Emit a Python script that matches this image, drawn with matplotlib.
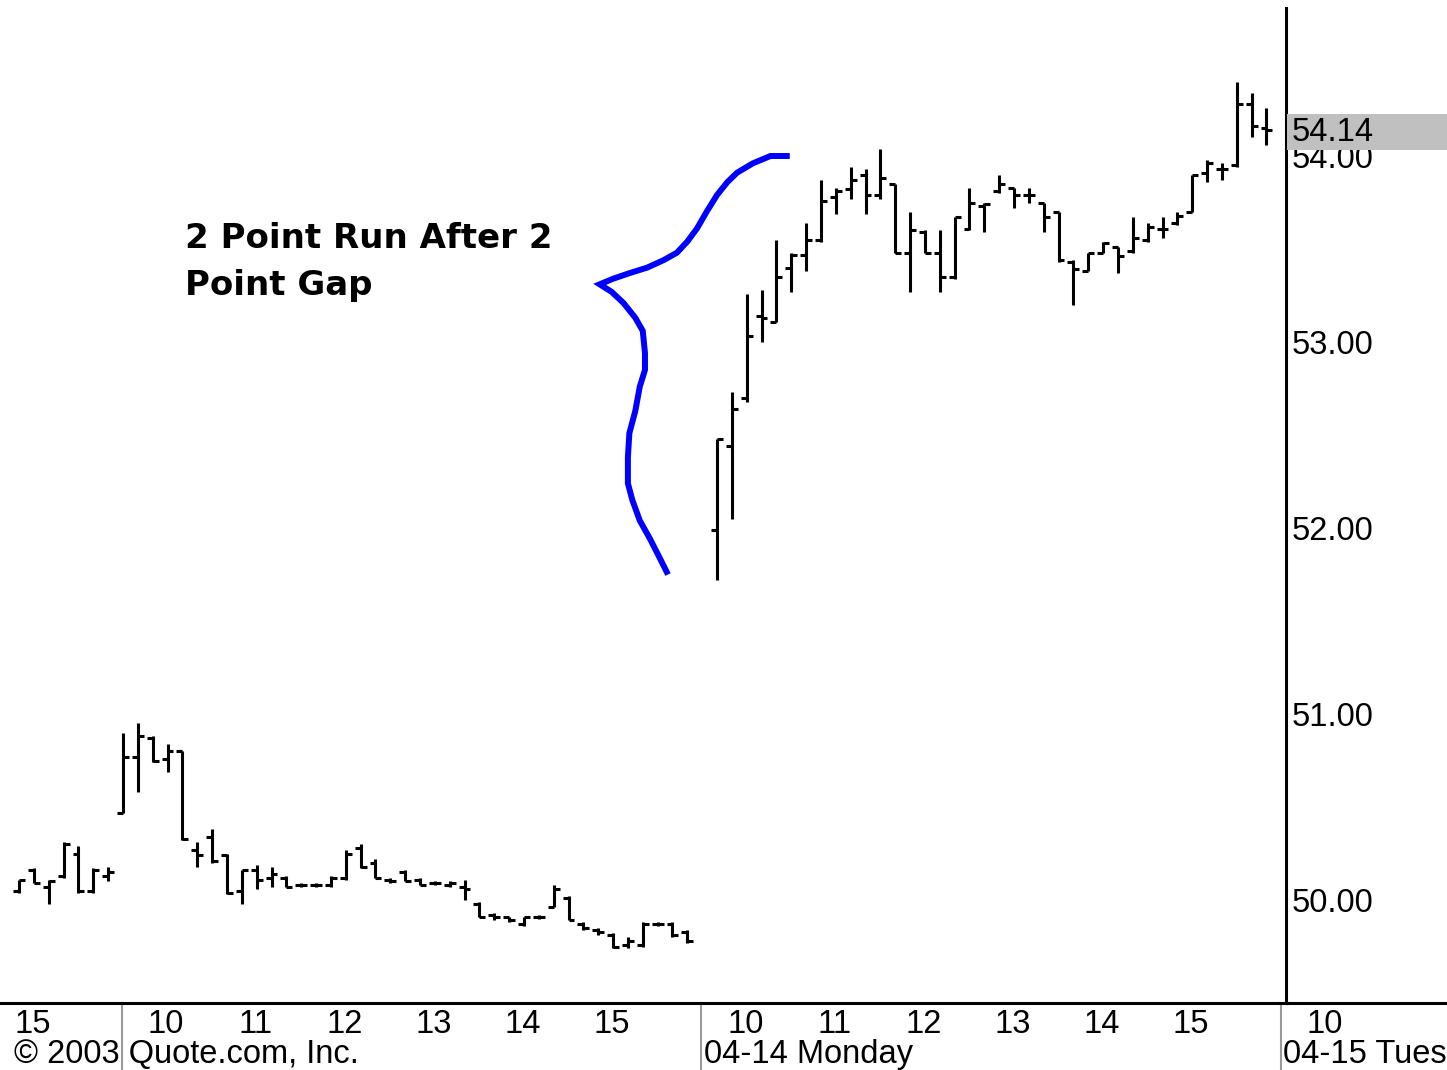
import numpy as np
import matplotlib
matplotlib.use("Agg")
from matplotlib import pyplot as plt
from matplotlib import font_manager
from matplotlib.patches import Rectangle
from matplotlib.lines import Line2D

# 10-minute bars: last hour of the first session, full Friday, Monday (gap up)
prev_open = [50.05, 50.16, 50.07, 50.13, 50.25, 50.05, 50.13]
prev_high = [50.11, 50.17, 50.11, 50.31, 50.29, 50.17, 50.18]
prev_low = [50.04, 50.09, 49.98, 50.12, 50.04, 50.04, 50.10]
prev_close = [50.11, 50.09, 50.10, 50.30, 50.05, 50.16, 50.15]

fri_open = [50.47, 50.77, 50.87, 50.76, 50.80, 50.27, 50.34, 50.24, 50.05, 50.16,
            50.12, 50.12, 50.08, 50.08, 50.08, 50.12, 50.28, 50.20, 50.11, 50.15,
            50.11, 50.09, 50.08, 50.07, 49.98, 49.92, 49.91, 49.87, 49.91, 49.96,
            50.01, 49.87, 49.84, 49.81, 49.76, 49.76, 49.87, 49.87, 49.83]
fri_high = [50.90, 50.95, 50.88, 50.84, 50.80, 50.31, 50.38, 50.25, 50.16, 50.19,
            50.18, 50.13, 50.09, 50.09, 50.13, 50.27, 50.30, 50.22, 50.12, 50.16,
            50.12, 50.10, 50.10, 50.11, 49.99, 49.93, 49.91, 49.91, 49.92, 50.08,
            50.02, 49.88, 49.85, 49.82, 49.80, 49.88, 49.88, 49.88, 49.84]
fri_low = [50.47, 50.58, 50.74, 50.69, 50.32, 50.18, 50.20, 50.03, 49.98, 50.06,
           50.07, 50.07, 50.07, 50.07, 50.07, 50.11, 50.17, 50.12, 50.09, 50.10,
           50.08, 50.08, 50.07, 50.00, 49.91, 49.89, 49.88, 49.86, 49.90, 49.96,
           49.89, 49.84, 49.81, 49.74, 49.74, 49.75, 49.86, 49.80, 49.77]
fri_close = [50.77, 50.88, 50.75, 50.80, 50.33, 50.24, 50.21, 50.04, 50.16, 50.11,
             50.14, 50.07, 50.08, 50.08, 50.12, 50.25, 50.18, 50.12, 50.10, 50.10,
             50.08, 50.09, 50.09, 50.06, 49.91, 49.91, 49.89, 49.91, 49.91, 50.06,
             49.89, 49.85, 49.83, 49.75, 49.78, 49.87, 49.87, 49.81, 49.78]

mon_open = [51.99, 52.44, 52.70, 53.14, 53.11, 53.40, 53.47, 53.55, 53.78, 53.82,
            53.90, 53.79, 53.85, 53.48, 53.59, 53.48, 53.35, 53.61, 53.73, 53.81,
            53.83, 53.79, 53.75, 53.70, 53.43, 53.38, 53.48, 53.51, 53.49, 53.55,
            53.61, 53.64, 53.70, 53.91, 53.93, 53.95, 54.28, 54.15]
mon_high = [52.48, 52.73, 53.26, 53.28, 53.55, 53.48, 53.64, 53.87, 53.83, 53.94,
            53.93, 54.04, 53.85, 53.70, 53.60, 53.60, 53.67, 53.83, 53.75, 53.90,
            53.83, 53.83, 53.75, 53.70, 53.44, 53.48, 53.54, 53.51, 53.67, 53.64,
            53.67, 53.70, 53.90, 53.98, 53.96, 54.40, 54.34, 54.26]
mon_low = [51.72, 52.05, 52.68, 53.00, 53.11, 53.27, 53.38, 53.54, 53.69, 53.77,
           53.69, 53.77, 53.48, 53.27, 53.48, 53.27, 53.34, 53.60, 53.59, 53.80,
           53.72, 53.75, 53.59, 53.43, 53.20, 53.38, 53.48, 53.37, 53.48, 53.54,
           53.56, 53.63, 53.70, 53.86, 53.87, 53.94, 54.10, 54.06]
mon_close = [52.48, 52.64, 53.03, 53.13, 53.35, 53.47, 53.55, 53.76, 53.81, 53.87,
             53.79, 53.88, 53.48, 53.60, 53.48, 53.35, 53.67, 53.75, 53.74, 53.85,
             53.79, 53.79, 53.67, 53.44, 53.39, 53.48, 53.53, 53.46, 53.56, 53.62,
             53.61, 53.68, 53.90, 53.96, 53.93, 54.28, 54.16, 54.14]

last_price = 54.14
y_ticks = [50.0, 51.0, 52.0, 53.0, 54.0]
hour_labels = ["10", "11", "12", "13", "14", "15"]
day_labels = ["04-14 Monday", "04-15 Tuesday"]
note_lines = ["2 Point Run After 2", "Point Gap"]

# hand drawn blue mark (bar slot, price)
pen_x = [44.9, 43.6, 42.4, 41.35, 40.7, 40.0, 39.3, 38.65, 38.0, 37.3, 36.4, 35.3,
         34.1, 33.0, 32.1, 32.9, 33.7, 34.5, 35.0, 35.15, 35.15, 34.8, 34.5, 34.1,
         34.0, 34.0, 34.3, 34.8, 35.5, 36.2, 36.7]
pen_y = [54.00, 54.00, 53.96, 53.91, 53.86, 53.79, 53.70, 53.61, 53.54, 53.48, 53.44,
         53.40, 53.37, 53.34, 53.31, 53.27, 53.21, 53.13, 53.06, 52.94, 52.85, 52.76,
         52.63, 52.51, 52.38, 52.24, 52.15, 52.04, 51.94, 51.83, 51.75]

bars_per_day = 39


def pick(names):
    for n in names:
        try:
            font_manager.findfont(font_manager.FontProperties(family=n), fallback_to_default=False)
            return n
        except ValueError:
            pass
    return "DejaVu Sans"


label_font = pick(["Liberation Sans Narrow", "Liberation Sans"])
fs = 27 if label_font == "Liberation Sans Narrow" else 23.5

W, H = 1447, 1070
fig = plt.figure(figsize=(W / 100, H / 100), dpi=100)
ax_left, ax_right, ax_bottom, ax_top = 0, 1286, 1003, 8
ax = fig.add_axes([ax_left / W, 1 - ax_bottom / H, (ax_right - ax_left) / W, (ax_bottom - ax_top) / H])

slot_px = 14.85
ax.set_xlim(-123 / slot_px, (1286 - 123) / slot_px)
ax.set_ylim(53 - (1003 - 342) / 186, 53 - (8 - 342) / 186)

opens = np.array(prev_open + fri_open + mon_open)
highs = np.array(prev_high + fri_high + mon_high)
lows = np.array(prev_low + fri_low + mon_low)
closes = np.array(prev_close + fri_close + mon_close)
slots = np.concatenate([np.arange(-len(prev_open), 0),
                        np.arange(len(fri_open)),
                        np.arange(2 * bars_per_day - len(mon_open), 2 * bars_per_day)])

lw = 2.2
tick = 0.4
ax.vlines(slots, lows, highs, color="black", lw=lw)
ax.hlines(opens, slots - tick, slots, color="black", lw=lw)
ax.hlines(closes, slots, slots + tick, color="black", lw=lw)

ax.plot(pen_x, pen_y, color="#0000ff", lw=4.3, solid_capstyle="butt", solid_joinstyle="miter")

for s in ["top", "left", "bottom"]:
    ax.spines[s].set_visible(False)
ax.spines["right"].set_linewidth(2.2)
ax.set_xticks([])
ax.yaxis.tick_right()
ax.set_yticks(y_ticks)
ax.set_yticklabels(["%.2f" % v for v in y_ticks], fontsize=fs, family=label_font)
ax.tick_params(axis="y", length=0, pad=4)

# bottom axis line runs across the full width
yb = 1 - ax_bottom / H
fig.add_artist(Line2D([0, 1], [yb, yb], color="black", lw=2.2, transform=fig.transFigure))

# day separators and time labels below the axis
tr = ax.get_xaxis_transform()
for d in range(-1, 3):
    x0 = d * bars_per_day
    if d >= 0:
        ax.plot([x0 - 0.05, x0 - 0.05], [-0.068, 0], transform=tr, color="#9a9a9a",
                lw=1.5, clip_on=False)
    for i, lab in enumerate(hour_labels):
        hx = x0 + 3 + 6 * i
        if -8 < hx < 82 and (d != 2 or i == 0):
            ax.text(hx - 0.1, -0.022, lab, transform=tr, ha="center", va="center",
                    fontsize=fs, family=label_font, clip_on=False)
ax.text((-123 + 14) / slot_px, -0.052, "\u00a9 2003 Quote.com, Inc.", transform=tr,
        ha="left", va="center", fontsize=fs, family=label_font, clip_on=False)
for k, lab in enumerate(day_labels):
    ax.text((k + 1) * bars_per_day + 0.1, -0.052, lab, transform=tr, ha="left",
            va="center", fontsize=fs, family=label_font, clip_on=False)

# last price box on the price scale
fig.add_artist(Rectangle((1287 / W, 1 - 150 / H), (W - 1287) / W, 36 / H,
                         transform=fig.transFigure, facecolor="#c0c0c0",
                         edgecolor="none", zorder=5))
ylp = ax.transData.transform((0, last_price))[1] / H
fig.text(1292 / W, ylp - 3 / H, "%.2f" % last_price, ha="left", va="center", fontsize=fs,
         family=label_font, zorder=6)

# annotation
fig.text(185 / W, 1 - 248 / H, note_lines[0], fontsize=24.5, fontweight="bold",
         family="DejaVu Sans", va="baseline", ha="left")
fig.text(185 / W, 1 - 295 / H, note_lines[1], fontsize=24.5, fontweight="bold",
         family="DejaVu Sans", va="baseline", ha="left")

fig.savefig("out.png", dpi=100, facecolor="white")
